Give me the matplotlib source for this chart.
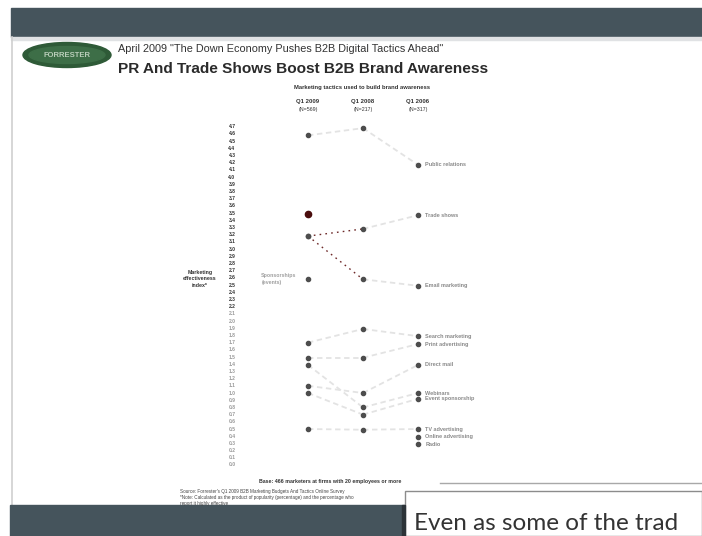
import numpy as np
import matplotlib
matplotlib.use("Agg")
import matplotlib.pyplot as plt
from matplotlib.patches import Rectangle, Ellipse

# ---- data -------------------------------------------------------------
periods = ["Q1 2009", "Q1 2008", "Q1 2006"]
sample_sizes = ["(N=569)", "(N=217)", "(N=317)"]

tactics = ["Public relations", "Trade shows", "Email marketing",
           "Search marketing", "Print advertising", "Direct mail",
           "Webinars", "Event sponsorship", "TV advertising",
           "Online advertising", "Radio"]
q1_2009 = [4.58, 3.18, 3.18, 1.70, 1.49, 1.10, 1.39, 1.00, 0.50, np.nan, np.nan]
q1_2008 = [4.68, 3.28, 2.58, 1.89, 1.49, 1.00, 0.80, 0.70, 0.49, np.nan, np.nan]
q1_2006 = [4.17, 3.47, 2.49, 1.79, 1.68, 1.39, 1.00, 0.92, 0.50, 0.39, 0.29]

# tactics only measured in the latest survey
new_tactics = ["Social media", "Sponsorships\n(events)"]
new_values = [3.49, 2.58]

index_ticks = [round(v, 1) for v in np.arange(4.7, -0.05, -0.1)]

# ---- figure / slide frame --------------------------------------------
W, H = 702, 536
fig = plt.figure(figsize=(W / 100, H / 100), dpi=100)
fig.patch.set_facecolor("white")

slide = fig.add_axes([0, 0, 1, 1])
slide.set_xlim(0, W)
slide.set_ylim(H, 0)
slide.axis("off")

band = "#45545c"
slide.add_patch(Rectangle((11, 8), W - 11, 29, color=band, zorder=1))
slide.add_patch(Rectangle((11, 37), W - 11, 3, color="#e0e2e4", zorder=1))
slide.plot([12, 12], [37, 505], color="#cfcfcf", lw=1.2, zorder=1)
slide.add_patch(Rectangle((10, 505), 400, 31, color=band, zorder=1))

# logo
slide.add_patch(Ellipse((67, 55), 88, 25, color="#2e5a37", zorder=2))
slide.add_patch(Ellipse((67, 55), 76, 17, color="#3d6e47", zorder=2))
slide.text(67, 55.5, "FORRESTER", color="#b9cdb9", fontsize=5.5,
           fontweight="bold", ha="center", va="center",
           family="Liberation Sans", zorder=3)

slide.text(118, 49, 'April 2009 "The Down Economy Pushes B2B Digital Tactics Ahead"',
           fontsize=7.8, color="#333333", family="Liberation Sans",
           va="center", ha="left")
slide.text(118, 69, "PR And Trade Shows Boost B2B Brand Awareness",
           fontsize=11.1, fontweight="bold", color="#2a2a2a",
           family="Liberation Sans", va="center", ha="left")

slide.text(362, 87, "Marketing tactics used to build brand awareness",
           fontsize=4.2, fontweight="bold", color="#333333",
           family="Liberation Sans", ha="center", va="center")

slide.text(330, 482, "Base: 466 marketers at firms with 20 employees or more",
           fontsize=3.8, fontweight="bold", color="#333333",
           family="Liberation Sans", ha="center", va="center")
slide.plot([440, W], [483, 483], color="#a8a8a8", lw=1.0, zorder=1)

source = ("Source: Forrester's Q1 2009 B2B Marketing Budgets And Tactics Online Survey\n"
          "*Note: Calculated as the product of popularity (percentage) and the percentage who\n"
          "report it highly effective")
slide.text(180, 497, source, fontsize=3.3, color="#444444",
           family="Liberation Sans", ha="left", va="center", linespacing=1.25)

# note box in the lower right corner
slide.add_patch(Rectangle((405, 491), W - 405, H - 491, facecolor="white",
                          edgecolor="#8c8c8c", lw=1.0, zorder=5))
slide.add_patch(Rectangle((402, 505), 3, 31, color="#2c3338", zorder=5))
slide.text(414, 523, "Even as some of the trad",
           fontsize=17.5, color="#333333", family="Lato", ha="left",
           va="center", zorder=6)

# ---- slope chart -------------------------------------------------------
# axes placed so that columns sit at x = 308, 363, 418 px and 0..4.7 spans 465..126.7 px
x0, x1, ytop, ybot = 290, 440, 120, 470
ax = fig.add_axes([x0 / W, (H - ybot) / H, (x1 - x0) / W, (ybot - ytop) / H])
ax.set_xlim((x0 - 308) / 55, 2 + (x1 - 418) / 55)
px_per_unit = (465 - 126.7) / 4.7
ax.set_ylim(-(ybot - 465) / px_per_unit, 4.7 + (126.7 - ytop) / px_per_unit)
ax.axis("off")

cols = np.arange(len(periods))
series = np.array([q1_2009, q1_2008, q1_2006], dtype=float).T

dotted_first = {"Trade shows", "Email marketing"}
for name, vals in zip(tactics, series):
    for i in range(len(cols) - 1):
        a, b = vals[i], vals[i + 1]
        if np.isnan(a) or np.isnan(b):
            continue
        if i == 0 and name in dotted_first:
            ax.plot(cols[i:i + 2], [a, b], color="#6e2a2a", lw=1.0,
                    ls=(0, (1.2, 3)), zorder=2)
        else:
            ax.plot(cols[i:i + 2], [a, b], color="#e3e3e3", lw=1.3,
                    ls=(0, (3, 2)), zorder=1)
    ax.plot(cols, vals, "o", color="#4d4d4d", ms=3.0, zorder=3, clip_on=False)

# tactics new in the latest survey
ax.plot([0], [new_values[0]], "o", color="#4a0d0d", ms=4.5, zorder=3)
ax.plot([0], [new_values[1]], "o", color="#4d4d4d", ms=3.0, zorder=3)
ax.text(-0.85, new_values[1], new_tactics[1], fontsize=3.8, fontweight="bold",
        color="#a0a0a0", family="Liberation Sans", ha="left", va="center",
        linespacing=1.5, clip_on=False)

# right-hand labels
for name, v in zip(tactics, q1_2006):
    ax.text(2.13, v, name, fontsize=4.0, fontweight="bold", color="#8a8a8a",
            family="Liberation Sans", ha="left", va="center", clip_on=False)

# column headings
for c, p, n in zip(cols, periods, sample_sizes):
    ax.text(c, 4.7 + (126.7 - 102) / px_per_unit, p, fontsize=4.3,
            fontweight="bold", color="#333333", family="Liberation Sans",
            ha="center", va="center", clip_on=False)
    ax.text(c, 4.7 + (126.7 - 110) / px_per_unit, n, fontsize=3.8,
            color="#333333", family="Liberation Sans", ha="center",
            va="center", clip_on=False)

# index scale
scale_x = (232 - 308) / 55
for v in index_ticks:
    ax.text(scale_x, v, f"{v:.1f}", fontsize=3.6, fontweight="bold",
            color="#333333" if v >= 2.2 else "#9a9a9a",
            family="Liberation Sans", ha="center", va="center", clip_on=False)

ax.text((200 - 308) / 55, 4.7 - (279 - 126.7) / px_per_unit,
        "Marketing\neffectiveness\nindex*", fontsize=3.8, fontweight="bold",
        color="#333333", family="Liberation Sans", ha="center", va="center",
        linespacing=1.4, clip_on=False)

fig.savefig("out.png", dpi=100, facecolor="white")
